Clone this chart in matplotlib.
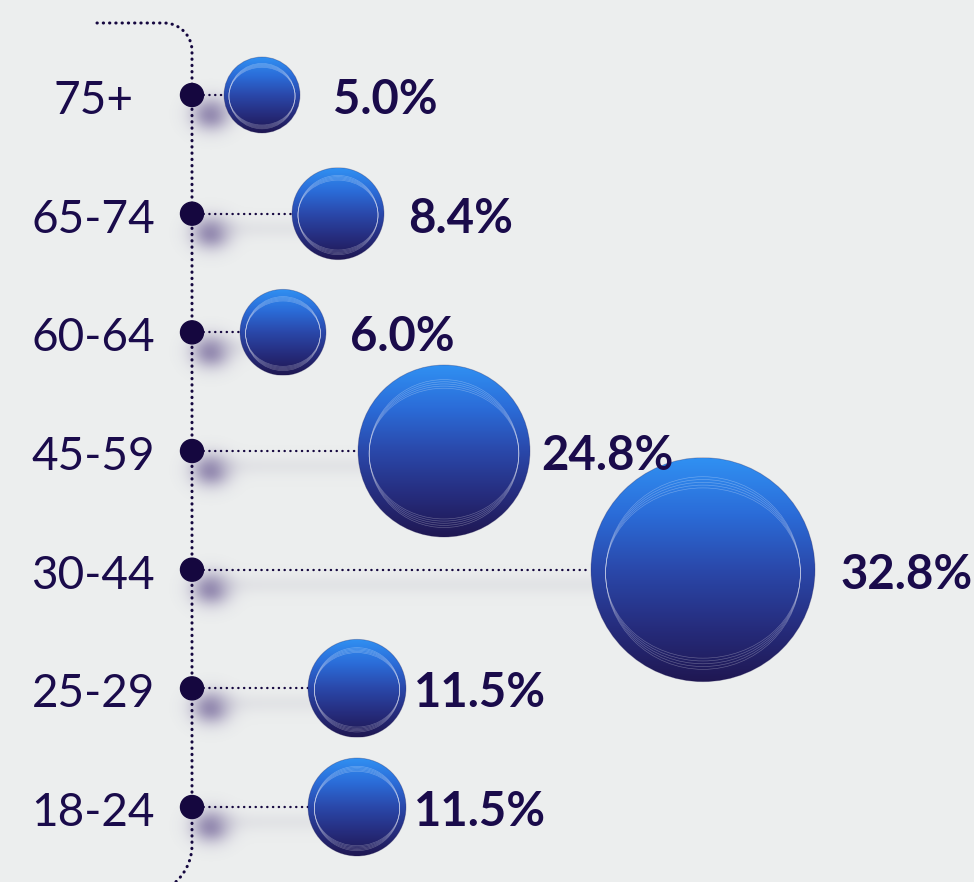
import numpy as np
import matplotlib
matplotlib.use("Agg")
import matplotlib.pyplot as plt
from matplotlib.patches import Circle, Ellipse
from matplotlib.colors import LinearSegmentedColormap

# ---- data ----
age_groups = ["75+", "65-74", "60-64", "45-59", "30-44", "25-29", "18-24"]
shares = [5.0, 8.4, 6.0, 24.8, 32.8, 11.5, 11.5]
value_labels = ["5.0%", "8.4%", "6.0%", "24.8%", "32.8%", "11.5%", "11.5%"]

# ---- layout (pixel-like data units) ----
W, H = 974, 882
row_top, row_step = 95, 118.67
axis_x = 192
bubble_cx = [262, 338, 283, 444, 703, 357, 357]
bubble_r = [38, 46, 43, 86, 112, 49, 49]
label_x = [333, 408, 350, 541, 840, 414, 414]

bg = "#eceeee"
ink = "#1a0b4b"
dot_col = "#15073f"

fig = plt.figure(figsize=(W / 100, H / 100), dpi=100, facecolor=bg)
ax = fig.add_axes([0, 0, 1, 1])
ax.set_xlim(0, W)
ax.set_ylim(H, 0)
ax.axis("off")
ax.set_facecolor(bg)

rows = [row_top + i * row_step for i in range(len(age_groups))]

# ---- shadow layer ----
yy, xx = np.mgrid[0:H, 0:W] + 0.5
shadow_col = np.array([0.42, 0.36, 0.58])
band_col = np.array([0.82, 0.82, 0.85])
band_a = np.zeros((H, W))
blob_a = np.zeros((H, W))
for y, cx, r in zip(rows, bubble_cx, bubble_r):
    blob_a = np.maximum(blob_a, 0.72 * np.exp(-(((xx - (axis_x + 19)) ** 2) / (2 * 13 ** 2)
                                                + ((yy - (y + 19)) ** 2) / (2 * 11 ** 2))))
    fade = np.clip((xx - axis_x) / 40, 0, 1) * np.clip((cx - xx) / 10, 0, 1)
    band_a = np.maximum(band_a, 0.35 * fade * np.exp(-((yy - (y + 15)) ** 2) / (2 * 7 ** 2)))
alpha = 1 - (1 - blob_a) * (1 - band_a)
w_blob = blob_a / np.maximum(blob_a + band_a, 1e-9)
rgb = w_blob[..., None] * shadow_col + (1 - w_blob[..., None]) * band_col
img = np.dstack([rgb, alpha])
ax.imshow(img, extent=(0, W, H, 0), origin="upper", zorder=1, interpolation="bilinear")

# ---- bracket line ----
Rt, Rb = 28, 50
top_y, bot_start = 23, 845
th1 = np.linspace(np.pi / 2, 0, 30)
th2 = np.linspace(0, -np.arcsin((H + 5 - bot_start) / Rb), 30)
px = np.concatenate([[97, axis_x - Rt], (axis_x - Rt) + Rt * np.cos(th1),
                     [axis_x, axis_x], (axis_x - Rb) + Rb * np.cos(th2)])
py = np.concatenate([[top_y, top_y], (top_y + Rt) - Rt * np.sin(th1),
                     [top_y + Rt, bot_start], bot_start - Rb * np.sin(th2)])
ax.plot(px, py, color=dot_col, lw=2.2, linestyle=(0, (0.1, 1.95)),
        dash_capstyle="round", zorder=3)

# ---- connectors & dots ----
for y, cx, r in zip(rows, bubble_cx, bubble_r):
    ax.plot([axis_x, cx - r], [y, y], color=dot_col, lw=1.7,
            linestyle=(0, (0.1, 2.35)), dash_capstyle="round", zorder=3)
    ax.add_patch(Circle((axis_x, y), 11.5, color=dot_col, zorder=5))

# ---- bubbles ----
cmap = LinearSegmentedColormap.from_list(
    "bub", ["#3090f2", "#2b6cd8", "#2a48aa", "#262d7e", "#1f1752"])
grad = np.linspace(0, 1, 256)[:, None]
for y, cx, r in zip(rows, bubble_cx, bubble_r):
    circ = Circle((cx, y), r, facecolor="none", edgecolor="none")
    ax.add_patch(circ)
    im = ax.imshow(grad, cmap=cmap, extent=(cx - r, cx + r, y + r, y - r),
                   origin="upper", zorder=6, aspect="auto", interpolation="bilinear")
    im.set_clip_path(circ)
    ax.add_patch(Circle((cx, y), r, facecolor="none", edgecolor="#1c1650",
                        lw=0.6, alpha=0.3, zorder=7))
    for k in range(5):
        hh = 0.76 + 0.025 * k
        ax.add_patch(Ellipse((cx, y + 0.03 * r), 2 * 0.87 * r, 2 * hh * r,
                             facecolor="none", edgecolor="white",
                             lw=0.45, alpha=0.3, zorder=8))

# ---- text ----
for y, lab, vl, lx in zip(rows, age_groups, value_labels, label_x):
    ax.text(93, y + 19, lab, ha="center", va="baseline", fontsize=33,
            family="Lato", color=ink, zorder=9)
    ax.text(lx, y + 19, vl, ha="left", va="baseline", fontsize=34,
            family="Lato", fontweight="bold", color=ink, zorder=9)

fig.savefig("out.png", dpi=100, facecolor=bg)
